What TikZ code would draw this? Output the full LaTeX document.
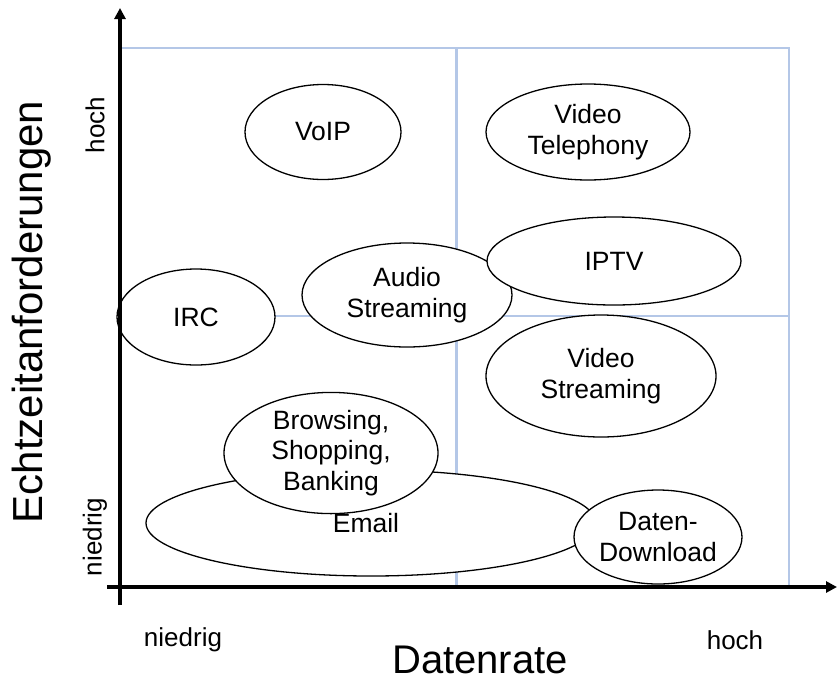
\documentclass[tikz,border=0pt]{standalone}
\usepackage{fontspec}
\setmainfont{Liberation Sans}
\usetikzlibrary{shapes}
\usetikzlibrary{arrows.meta}
\definecolor{gridblue}{RGB}{180,199,231}
\tikzset{app/.style={ellipse,draw=black,line width=1.3pt,fill=white,inner sep=0pt,align=center,font=\fontsize{26.5}{30.5}\selectfont}}
\tikzset{lvl/.style={font=\fontsize{26}{30}\selectfont}}
\tikzset{axlabel/.style={font=\fontsize{40}{44}\selectfont}}
\newcommand{\appnode}[2]{\node[app,minimum width=#1,minimum height=#2]}

\begin{document}
\begin{tikzpicture}[x=1pt,y=-1pt]
        \useasboundingbox (0,0) rectangle (837,681);
        % quadrant grid
        \draw[gridblue,line width=1.8pt] (120,48) rectangle (789,587);
        \draw[gridblue,line width=3pt] (456,48) -- (456,587);
        \draw[gridblue,line width=1.8pt] (120,316) -- (789,316);
        % applications
        \appnode{450}{106} (email) at (371,523) {};
        \node[app,draw=none,fill=none] (emailtxt) at (366,523) {Email};
        \appnode{214}{110} (browse) at (331,453) {Browsing,\\Shopping,\\Banking};
        \appnode{156}{95} (voip) at (323,132) {VoIP};
        \appnode{204}{96} (vtel) at (588,132) {Video\\Telephony};
        \appnode{158}{96} (irc) at (196,317) {IRC};
        \appnode{210}{104} (audio) at (407,295) {Audio\\Streaming};
        \appnode{254}{88} (iptv) at (614,261) {IPTV};
        \appnode{230}{122} (vstream) at (601,376) {Video\\Streaming};
        \appnode{168}{94} (dl) at (658,537) {Daten-\\Download};
        % axes
        \coordinate (yb) at (120,605);
        \coordinate (yt) at (120,8);
        \coordinate (xl) at (107,587);
        \coordinate (xr) at (837,587);
        \draw[line width=3.5pt,-{Triangle[length=11pt,width=11pt]}] (yb) -- (yt);
        \draw[line width=3.5pt,-{Triangle[length=11pt,width=11pt]}] (xl) -- (xr);
        % axis labels
        \node[lvl] (xlow) at (183,640) {niedrig};
        \node[lvl] (xhigh) at (735,640) {hoch};
        \node[lvl,rotate=90] (ylow) at (95,537) {niedrig};
        \node[lvl,rotate=90] (yhigh) at (95,125) {hoch};
        \node[axlabel] (xname) at (480,660) {Datenrate};
        \node[axlabel,font=\fontsize{42}{46}\selectfont,rotate=90] (yname) at (32,312) {Echtzeitanforderungen};
\end{tikzpicture}
\end{document}
